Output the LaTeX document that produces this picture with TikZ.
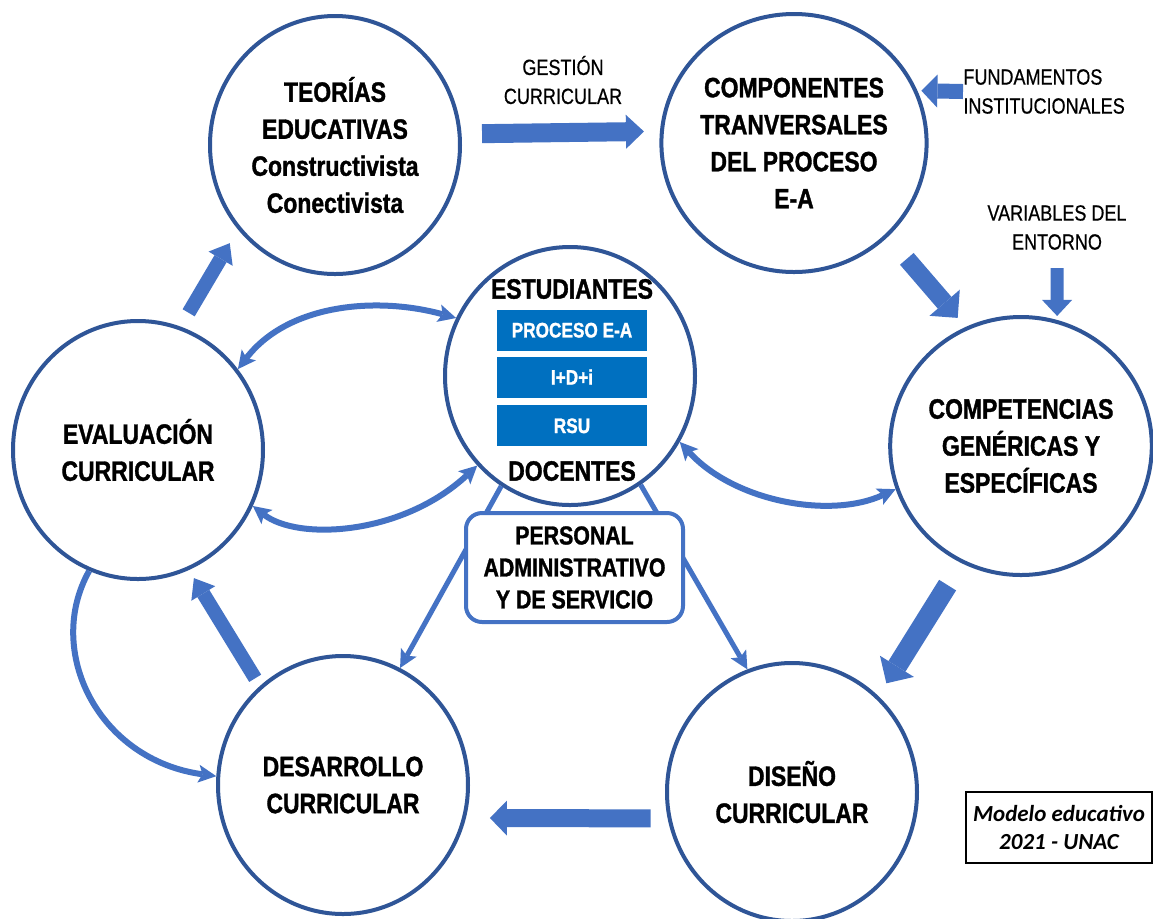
\documentclass[tikz,border=0pt]{standalone}
\usepackage{fontspec}
\setmainfont{Liberation Sans}[FakeStretch=0.82, UprightFeatures={FakeBold=0.6}, BoldFeatures={FakeBold=1.2}]
\newfontfamily\calib{Carlito}
\usetikzlibrary{shapes.geometric,arrows.meta,positioning}
\definecolor{arw}{RGB}{68,114,196}
\definecolor{ring}{RGB}{47,85,151}
\definecolor{cellblue}{RGB}{0,112,192}
\tikzset{
  circ/.style={
    draw=ring,
    line width=2pt,
    ellipse,
    fill=white,
    minimum width=125pt,
    minimum height=129pt,
    inner sep=0pt,
    align=center,
    font=\bfseries\fontsize{14}{18.5}\selectfont,
  },
  cell/.style={
    fill=cellblue,
    text=white,
    minimum width=75pt,
    minimum height=20.5pt,
    inner sep=0pt,
    font=\bfseries\fontsize{10.5}{12}\selectfont,
  },
  head/.style={
    inner sep=0pt,
    font=\bfseries\fontsize{14}{18.5}\selectfont,
  },
  lbl/.style={
    inner sep=0pt,
    align=center,
    font=\fontsize{11}{14.5}\selectfont,
  },
  blk/.style n args={3}{
    draw=arw,
    line width=#1,
    -{Triangle[width=#2,length=#3,line width=0pt]},
  },
  curv/.style={
    draw=arw,
    line width=3pt,
    >={Stealth[length=9pt,width=9pt,inset=2pt,line width=0pt]},
  },
}

\begin{document}
\begin{tikzpicture}[x=0.5pt,y=-0.5pt]
  \useasboundingbox[fill=white] (0,0) rectangle (1153,918);

  % the six circles of the cycle
  \node[circ] (teo) at (335,145) {TEORÍAS\\EDUCATIVAS\\Constructivista\\Conectivista};
  \node[circ] (comp) at (794,143) {COMPONENTES\\TRANVERSALES\\DEL PROCESO\\E-A};
  \node[circ] (compet) at (1021,446) {COMPETENCIAS\\GENÉRICAS Y\\ESPECÍFICAS};
  \node[circ] (dis) at (792,792) {DISEÑO\\CURRICULAR};
  \node[circ] (des) at (343,785) {DESARROLLO\\CURRICULAR};
  \node[circ] (eval) at (138,450) {EVALUACIÓN\\CURRICULAR};

  % centre circle
  \node[circ] (est) at (570,376) {};
  \node[cell] (idi) at (572,377) {I+D+i};
  \node[cell, above=2.5pt of idi] (proc) {PROCESO E-A};
  \node[cell, below=3.5pt of idi] (rsu) {RSU};
  \node[head, above=5pt of proc] (estu) {ESTUDIANTES};
  \node[head, below=7pt of rsu] (doc) {DOCENTES};

  % outside labels
  \node[lbl] (gest) at (563,80) {GESTIÓN\\CURRICULAR};
  \node[lbl, align=left, anchor=west] (fund) at (963,91.5) {FUNDAMENTOS\\INSTITUCIONALES};
  \node[lbl] (var) at (1057,227.5) {VARIABLES DEL\\ENTORNO};

  % block arrows
  \draw[blk={9.5pt}{17pt}{9pt}, shorten <=10.25pt, shorten >=8pt] (teo.5) -- (comp.175);
  \draw[blk={7.5pt}{16.5pt}{8pt}, shorten >=2pt] (fund.west) -- (comp.23);
  \draw[blk={9pt}{20pt}{10pt}, shorten <=14.5pt, shorten >=6pt] (comp.-45) -- (compet.115);
  \draw[blk={6.5pt}{15pt}{8pt}, shorten <=9pt, shorten >=2pt] (var.south) -- (compet.74);
  \draw[blk={10pt}{20pt}{10pt}, shorten <=13pt, shorten >=7.5pt] (compet.-117) -- (dis.48);
  \draw[blk={9pt}{17.5pt}{8.5pt}, shorten <=8.5pt, shorten >=12pt] (dis.192) -- (des.-15);
  \draw[blk={7pt}{14pt}{9pt}, shorten <=4.5pt, shorten >=4.75pt] (des.130) -- (eval.-67);
  \draw[blk={7pt}{14pt}{9pt}, shorten <=8pt, shorten >=8pt] (eval.71) -- (teo.221);

  % curved links
  \draw[curv, <->] (eval.39) .. controls +(50,-65) and +(-80,-22) .. (est.153);
  \draw[curv, <->] (eval.-26) .. controls +(45,35) and +(-75,70) .. (est.224);
  \draw[curv, <->] (est.-31) .. controls +(55,60) and +(-65,30) .. (compet.199);
  \draw[curv, ->] (eval.248) .. controls +(-45,80) and +(-118,-16) .. (des.176);
  \draw[curv, line width=2.5pt, ->] (est.238) -- (des.64);
  \draw[curv, line width=2.5pt, ->] (est.-57) -- (dis.110);

  \node[draw=arw, line width=2pt, rounded corners=8pt, fill=white,
        minimum width=108.5pt, minimum height=54.5pt, align=center,
        font=\bfseries\fontsize{13}{16}\selectfont] (pers) at (574.5,567.5)
        {PERSONAL\\ADMINISTRATIVO\\Y DE SERVICIO};

  \node[draw, line width=0.75pt, minimum width=93pt, minimum height=35.5pt, align=center,
        font=\calib\bfseries\itshape\fontsize{11.5}{14}\selectfont] (modelo) at (1059,827.5)
        {Modelo educativo\\2021 - UNAC};
\end{tikzpicture}
\end{document}
